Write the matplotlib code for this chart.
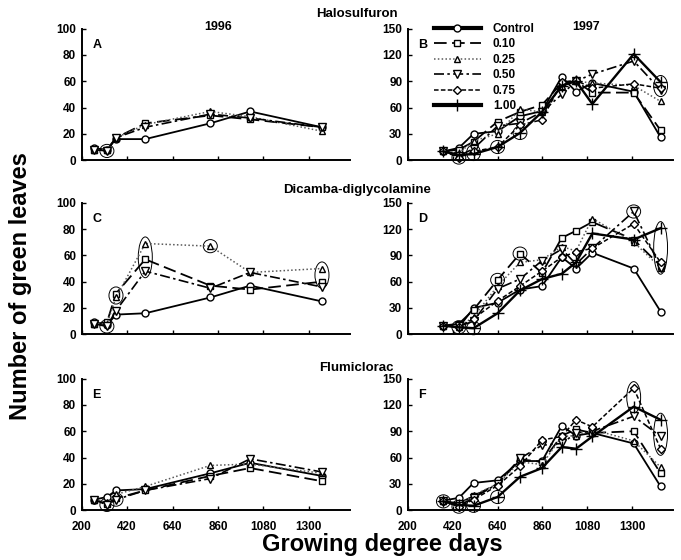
import matplotlib.pyplot as plt
from matplotlib.lines import Line2D
from matplotlib.patches import Ellipse

plt.rcParams['font.family'] = ['Liberation Sans', 'DejaVu Sans']
plt.rcParams['font.weight'] = 'bold'

# growing degree days at each sampling date
gdd_1996 = [260, 322, 366, 508, 823, 1016, 1364]
gdd_1997 = [374, 450, 522, 640, 750, 858, 955, 1025, 1105, 1308, 1440]

rates = ["Control", "0.10", "0.25", "0.50", "0.75", "1.00"]
herbicides = ["Halosulfuron", "Dicamba-diglycolamine", "Flumiclorac"]

# 1996: Control, 0.10, 0.25, 0.50
leaves_A = [
    [9, 8, 16, 16, 28, 37, 25],
    [8, 8, 17, 28, 34, 31, 25],
    [8, 8, 17, 27, 37, 33, 22],
    [8, 7, 17, 25, 35, 32, 25],
]
leaves_C = [
    [9, 7, 15, 16, 28, 37, 25],
    [8, 9, 31, 57, 37, 34, 40],
    [8, 8, 28, 69, 67, 47, 50],
    [8, 6, 18, 48, 35, 47, 36],
]
leaves_E = [
    [8, 10, 15, 16, 28, 36, 26],
    [8, 5, 9, 15, 26, 32, 22],
    [8, 6, 12, 18, 34, 35, 28],
    [8, 4, 8, 15, 24, 39, 29],
]

# 1997: all six rates
leaves_B = [
    [10, 14, 30, 33, 50, 56, 95, 78, 88, 78, 26],
    [10, 12, 21, 44, 55, 63, 88, 90, 77, 77, 34],
    [10, 8, 22, 30, 58, 55, 85, 90, 88, 85, 67],
    [10, 5, 13, 39, 42, 55, 75, 90, 98, 113, 80],
    [10, 3, 10, 15, 40, 46, 89, 91, 82, 87, 82],
    [10, 6, 7, 15, 31, 55, 85, 90, 64, 121, 89],
]
leaves_D = [
    [10, 8, 30, 36, 51, 55, 88, 75, 93, 75, 26],
    [10, 12, 28, 62, 92, 70, 110, 118, 128, 108, 78],
    [10, 8, 20, 55, 82, 85, 100, 95, 132, 105, 76],
    [10, 9, 15, 52, 63, 84, 97, 80, 98, 140, 76],
    [10, 8, 18, 38, 55, 72, 88, 94, 98, 126, 82],
    [10, 8, 7, 24, 50, 63, 69, 82, 115, 108, 121],
]
leaves_F = [
    [11, 14, 31, 34, 56, 56, 96, 85, 88, 76, 27],
    [10, 8, 16, 30, 58, 55, 85, 92, 88, 90, 42],
    [10, 6, 17, 30, 55, 52, 84, 85, 92, 79, 49],
    [10, 5, 14, 30, 59, 74, 76, 88, 90, 107, 84],
    [10, 4, 12, 28, 50, 80, 84, 103, 95, 139, 70],
    [10, 6, 5, 15, 38, 48, 72, 70, 84, 118, 103],
]

# ringed points: (sampling index, series indices)
rings_A = [(1, [3])]
rings_B = [(1, [4]), (2, [4, 5]), (3, [5]), (4, [5]), (10, [3, 4, 5])]
rings_C = [(1, [3]), (2, [1, 2]), (3, [1, 2, 3]), (4, [2]), (6, [1, 2])]
rings_D = [(1, [4]), (2, [5]), (3, [1]), (4, [1]), (9, [3]), (10, [1, 2, 3, 4, 5])]
rings_E = [(1, [3]), (2, [3])]
rings_F = [(0, [4]), (1, [4]), (2, [5]), (3, [5]), (9, [4, 5]), (10, [3, 4, 5])]

styles = [
    dict(ls='-', marker='o', lw=1.3, ms=5, color='black'),
    dict(ls=(0, (7, 3)), marker='s', lw=1.3, ms=5, color='black'),
    dict(ls=(0, (1, 1.5)), marker='^', lw=1.1, ms=5, color='0.35'),
    dict(ls=(0, (6, 2, 1.5, 2)), marker='v', lw=1.2, ms=5.5, color='black'),
    dict(ls=(0, (3, 1.5)), marker='D', lw=1.1, ms=4, color='black'),
    dict(ls='-', marker='+', lw=1.7, ms=8, color='black'),
]

fig = plt.figure(figsize=(6.81, 5.60), dpi=100)

panels = [
    ("A", gdd_1996, leaves_A, rings_A, 100, 20),
    ("B", gdd_1997, leaves_B, rings_B, 150, 30),
    ("C", gdd_1996, leaves_C, rings_C, 100, 20),
    ("D", gdd_1997, leaves_D, rings_D, 150, 30),
    ("E", gdd_1996, leaves_E, rings_E, 100, 20),
    ("F", gdd_1997, leaves_F, rings_F, 150, 30),
]
lefts = [0.120, 0.599]
widths = [0.394, 0.389]
bottoms = [0.714, 0.403, 0.089]
height = 0.235

axes = []
for i, (letter, gdd, vals, rings, ymax, ystep) in enumerate(panels):
    row, col = divmod(i, 2)
    ax = fig.add_axes([lefts[col], bottoms[row], widths[col], height])
    axes.append(ax)
    for k, series in enumerate(vals):
        st = styles[k]
        ax.plot(gdd, series, linestyle=st['ls'], lw=st['lw'], color=st['color'],
                marker=st['marker'], ms=st['ms'], mfc='white', mec='black', mew=1,
                clip_on=False)
    for idx, members in rings:
        ys = [vals[m][idx] for m in members]
        pad = 0.1 * ymax
        ax.add_patch(Ellipse((gdd[idx], (max(ys) + min(ys)) / 2), 68,
                             max(ys) - min(ys) + pad, fill=False, lw=0.7,
                             ec='black', clip_on=False))
    ax.set_xlim(200, 1500)
    ax.set_ylim(0, ymax)
    ax.set_xticks(range(200, 1400, 220))
    ax.set_yticks(range(0, ymax + 1, ystep))
    for s in ['top', 'right']:
        ax.spines[s].set_visible(False)
    ax.spines['left'].set_linewidth(1.4)
    ax.spines['bottom'].set_linewidth(1.4)
    ax.tick_params(axis='both', direction='in', length=3, width=1, labelsize=8.5, pad=4)
    ax.tick_params(axis='x', pad=8)
    if row < 2:
        ax.tick_params(axis='x', labelbottom=False)
    ax.text(0.04, 0.92, letter, transform=ax.transAxes, fontsize=9, fontweight='bold',
            va='top')

# legend in panel B
handles = []
for k, st in enumerate(styles):
    lw = 3 if k in (0, 5) else st['lw']
    handles.append(Line2D([], [], linestyle=st['ls'], lw=lw, color=st['color'],
                          marker=st['marker'], ms=st['ms'], mfc='white', mec='black',
                          mew=1))
axes[1].legend(handles, rates, loc='upper left', bbox_to_anchor=(0.08, 1.08),
               frameon=False, handlelength=4.0, fontsize=8.5, labelspacing=0.3,
               handletextpad=1.0, borderaxespad=0)

for name, y in zip(herbicides, [0.975, 0.661, 0.343]):
    fig.text(0.524, y, name, ha='center', va='center', fontsize=9.5, fontweight='bold')
fig.text(0.32, 0.952, "1996", ha='center', va='center', fontsize=9, fontweight='bold')
fig.text(0.86, 0.952, "1997", ha='center', va='center', fontsize=9, fontweight='bold')

fig.text(0.03, 0.49, "Number of green leaves", rotation=90, ha='center', va='center',
         fontsize=17, fontweight='bold')
fig.text(0.562, 0.028, "Growing degree days", ha='center', va='center',
         fontsize=17, fontweight='bold')

fig.savefig("out.png", dpi=100)
